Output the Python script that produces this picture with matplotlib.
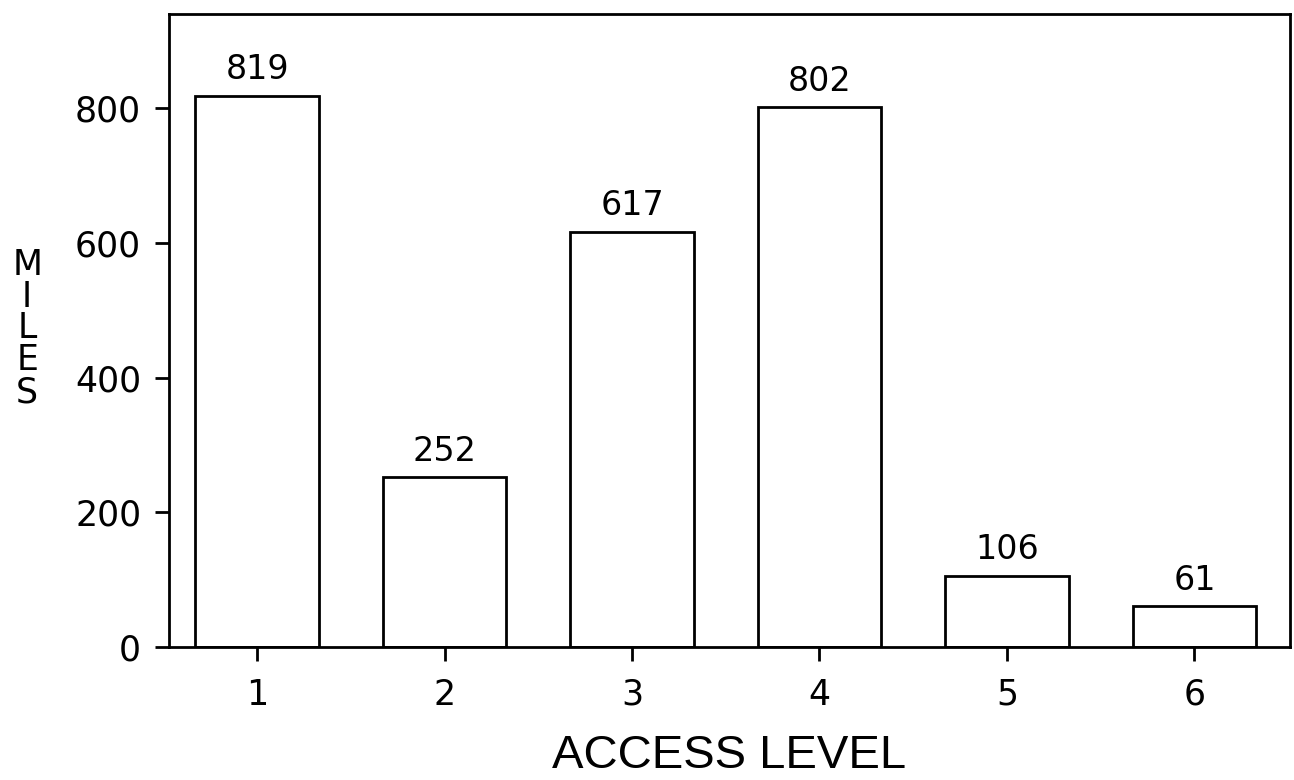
import numpy as np
import matplotlib.pyplot as plt

# Data
levels = [1, 2, 3, 4, 5, 6]
miles = [819, 252, 617, 802, 106, 61]
yticks = [0, 200, 400, 600, 800]

plt.rcParams['font.family'] = ['DejaVu Sans']

fig = plt.figure(figsize=(12.94, 7.8), dpi=100)
ax = fig.add_axes([0.1306, 0.1705, 0.8663, 0.8115])

ax.bar(levels, miles, width=0.66, facecolor='white', edgecolor='black', linewidth=2.0)

for x, v in zip(levels, miles):
    ax.text(x, v + 14, str(v), ha='center', va='bottom', fontsize=24)

ax.set_xlim(0.53, 6.51)
ax.set_ylim(0, 940)
ax.set_xticks(levels)
ax.set_yticks(yticks)
ax.tick_params(axis='both', direction='out', length=10, width=2.0, labelsize=25)
ax.tick_params(axis='y', pad=10)
ax.tick_params(axis='x', pad=12)
for s in ax.spines.values():
    s.set_linewidth(2.0)

ax.set_xlabel('ACCESS LEVEL', fontsize=34, family='Liberation Sans', labelpad=16)
fig.text(0.021, 0.579, 'M\nI\nL\nE\nS', ha='center', va='center', fontsize=25,
         linespacing=0.92)

plt.savefig('out.png', dpi=100)
